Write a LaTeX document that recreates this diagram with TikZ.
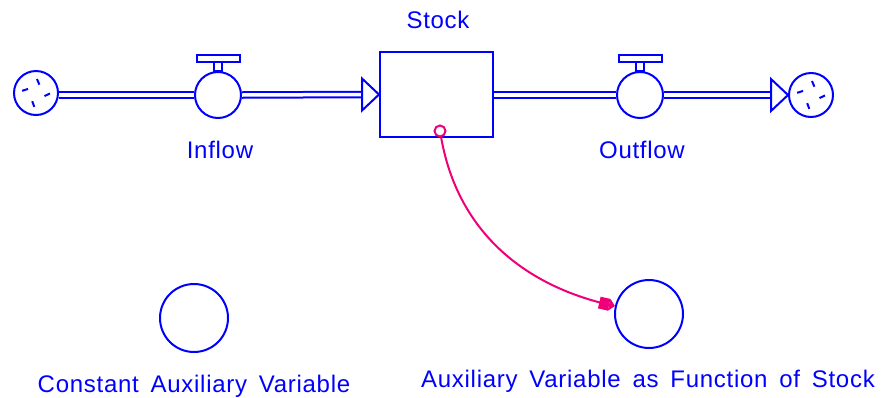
\documentclass[tikz,border=0pt]{standalone}
\usepackage{fontspec}
\setmainfont{Liberation Sans}[WordSpace=1.6,LetterSpace=3]
\usetikzlibrary{arrows.meta}
\definecolor{sdblue}{RGB}{0,0,255}
\definecolor{sdpink}{RGB}{240,0,120}
\tikzset{
  lbl/.style={text=sdblue, font=\fontsize{24}{28}\selectfont, inner sep=0pt, anchor=base},
  cloud/.style={circle, draw=sdblue, line width=2pt, minimum size=44pt, inner sep=0pt},
  valve/.style={circle, draw=sdblue, line width=2pt, minimum size=46pt, inner sep=0pt},
  aux/.style={circle, draw=sdblue, line width=2pt, minimum size=68pt, inner sep=0pt},
  stockbox/.style={rectangle, draw=sdblue, line width=2pt, minimum width=113pt, minimum height=85pt, inner sep=0pt},
  flow/.style={draw=sdblue, double=white, line width=2pt, double distance=3.5pt},
  flowhead/.style={draw=sdblue, fill=white, line width=2pt, line join=miter},
  valvebar/.style={draw=sdblue, fill=white, line width=2pt},
  tick/.style={draw=sdblue, line width=2pt},
  link/.style={draw=sdpink, line width=2pt, -{Square[length=10pt,width=12pt]Triangle[length=6pt,width=12pt]}},
  srcdot/.style={circle, draw=sdpink, fill=white, line width=2pt, minimum size=11pt, inner sep=0pt}
}
\begin{document}
\begin{tikzpicture}[x=1pt,y=1pt]
\useasboundingbox (0,0) rectangle (881,-397);
% stock
\node[stockbox] (stock) at (436.5,-94.5) {};
\node[lbl] (stocklbl) at (438,-28) {Stock};
% clouds
\node[cloud] (cloudL) at (36,-93) {};
\node[cloud] (cloudR) at (811,-95) {};
\foreach \c in {cloudL,cloudR}{
  \foreach \a in {68,153,-20,-115}{
    \draw[tick] ([shift={(\a:9pt)}]\c.center) -- ([shift={(\a+18:14pt)}]\c.center);
  }
}
% valves
\node[valve] (inflowV) at (218,-95) {};
\node[valve] (outflowV) at (640,-95) {};
\foreach \v in {inflowV,outflowV}{
  \draw[valvebar] ([xshift=-4pt]\v.north) rectangle ([xshift=4pt,yshift=9pt]\v.north);
  \draw[valvebar] ([xshift=-21pt,yshift=9pt]\v.north) rectangle ([xshift=22pt,yshift=16pt]\v.north);
}
\node[lbl] (inflowlbl) at (220,-158) {Inflow};
\node[lbl] (outflowlbl) at (642,-158) {Outflow};
% inflow pipe
\coordinate (tipInBase) at ([xshift=-17pt]stock.west);
\draw[flow] (cloudL.east |- inflowV.west) -- (inflowV.west);
\draw[flow] (inflowV.east) -- (tipInBase);
\draw[flowhead] (stock.west) -- ++(-17,16) -- ++(0,-32) -- cycle;
% outflow pipe
\coordinate (tipOutBase) at ([xshift=-17pt]cloudR.west);
\draw[flow] (stock.east |- outflowV.west) -- (outflowV.west);
\draw[flow] (outflowV.east) -- (tipOutBase);
\draw[flowhead] (cloudR.west) -- ++(-17,16) -- ++(0,-32) -- cycle;
% auxiliaries
\node[aux] (constA) at (194,-318) {};
\node[aux] (auxF) at (649,-314) {};
\node[lbl] (constlbl) at (194,-392) {Constant Auxiliary Variable};
\node[lbl] (auxlbl) at (648,-387) {Auxiliary Variable as Function of Stock};
% link
\node[srcdot] (src) at (440,-131) {};
\draw[link] (src) to[out=-80,in=167] (auxF);
\end{tikzpicture}
\end{document}
